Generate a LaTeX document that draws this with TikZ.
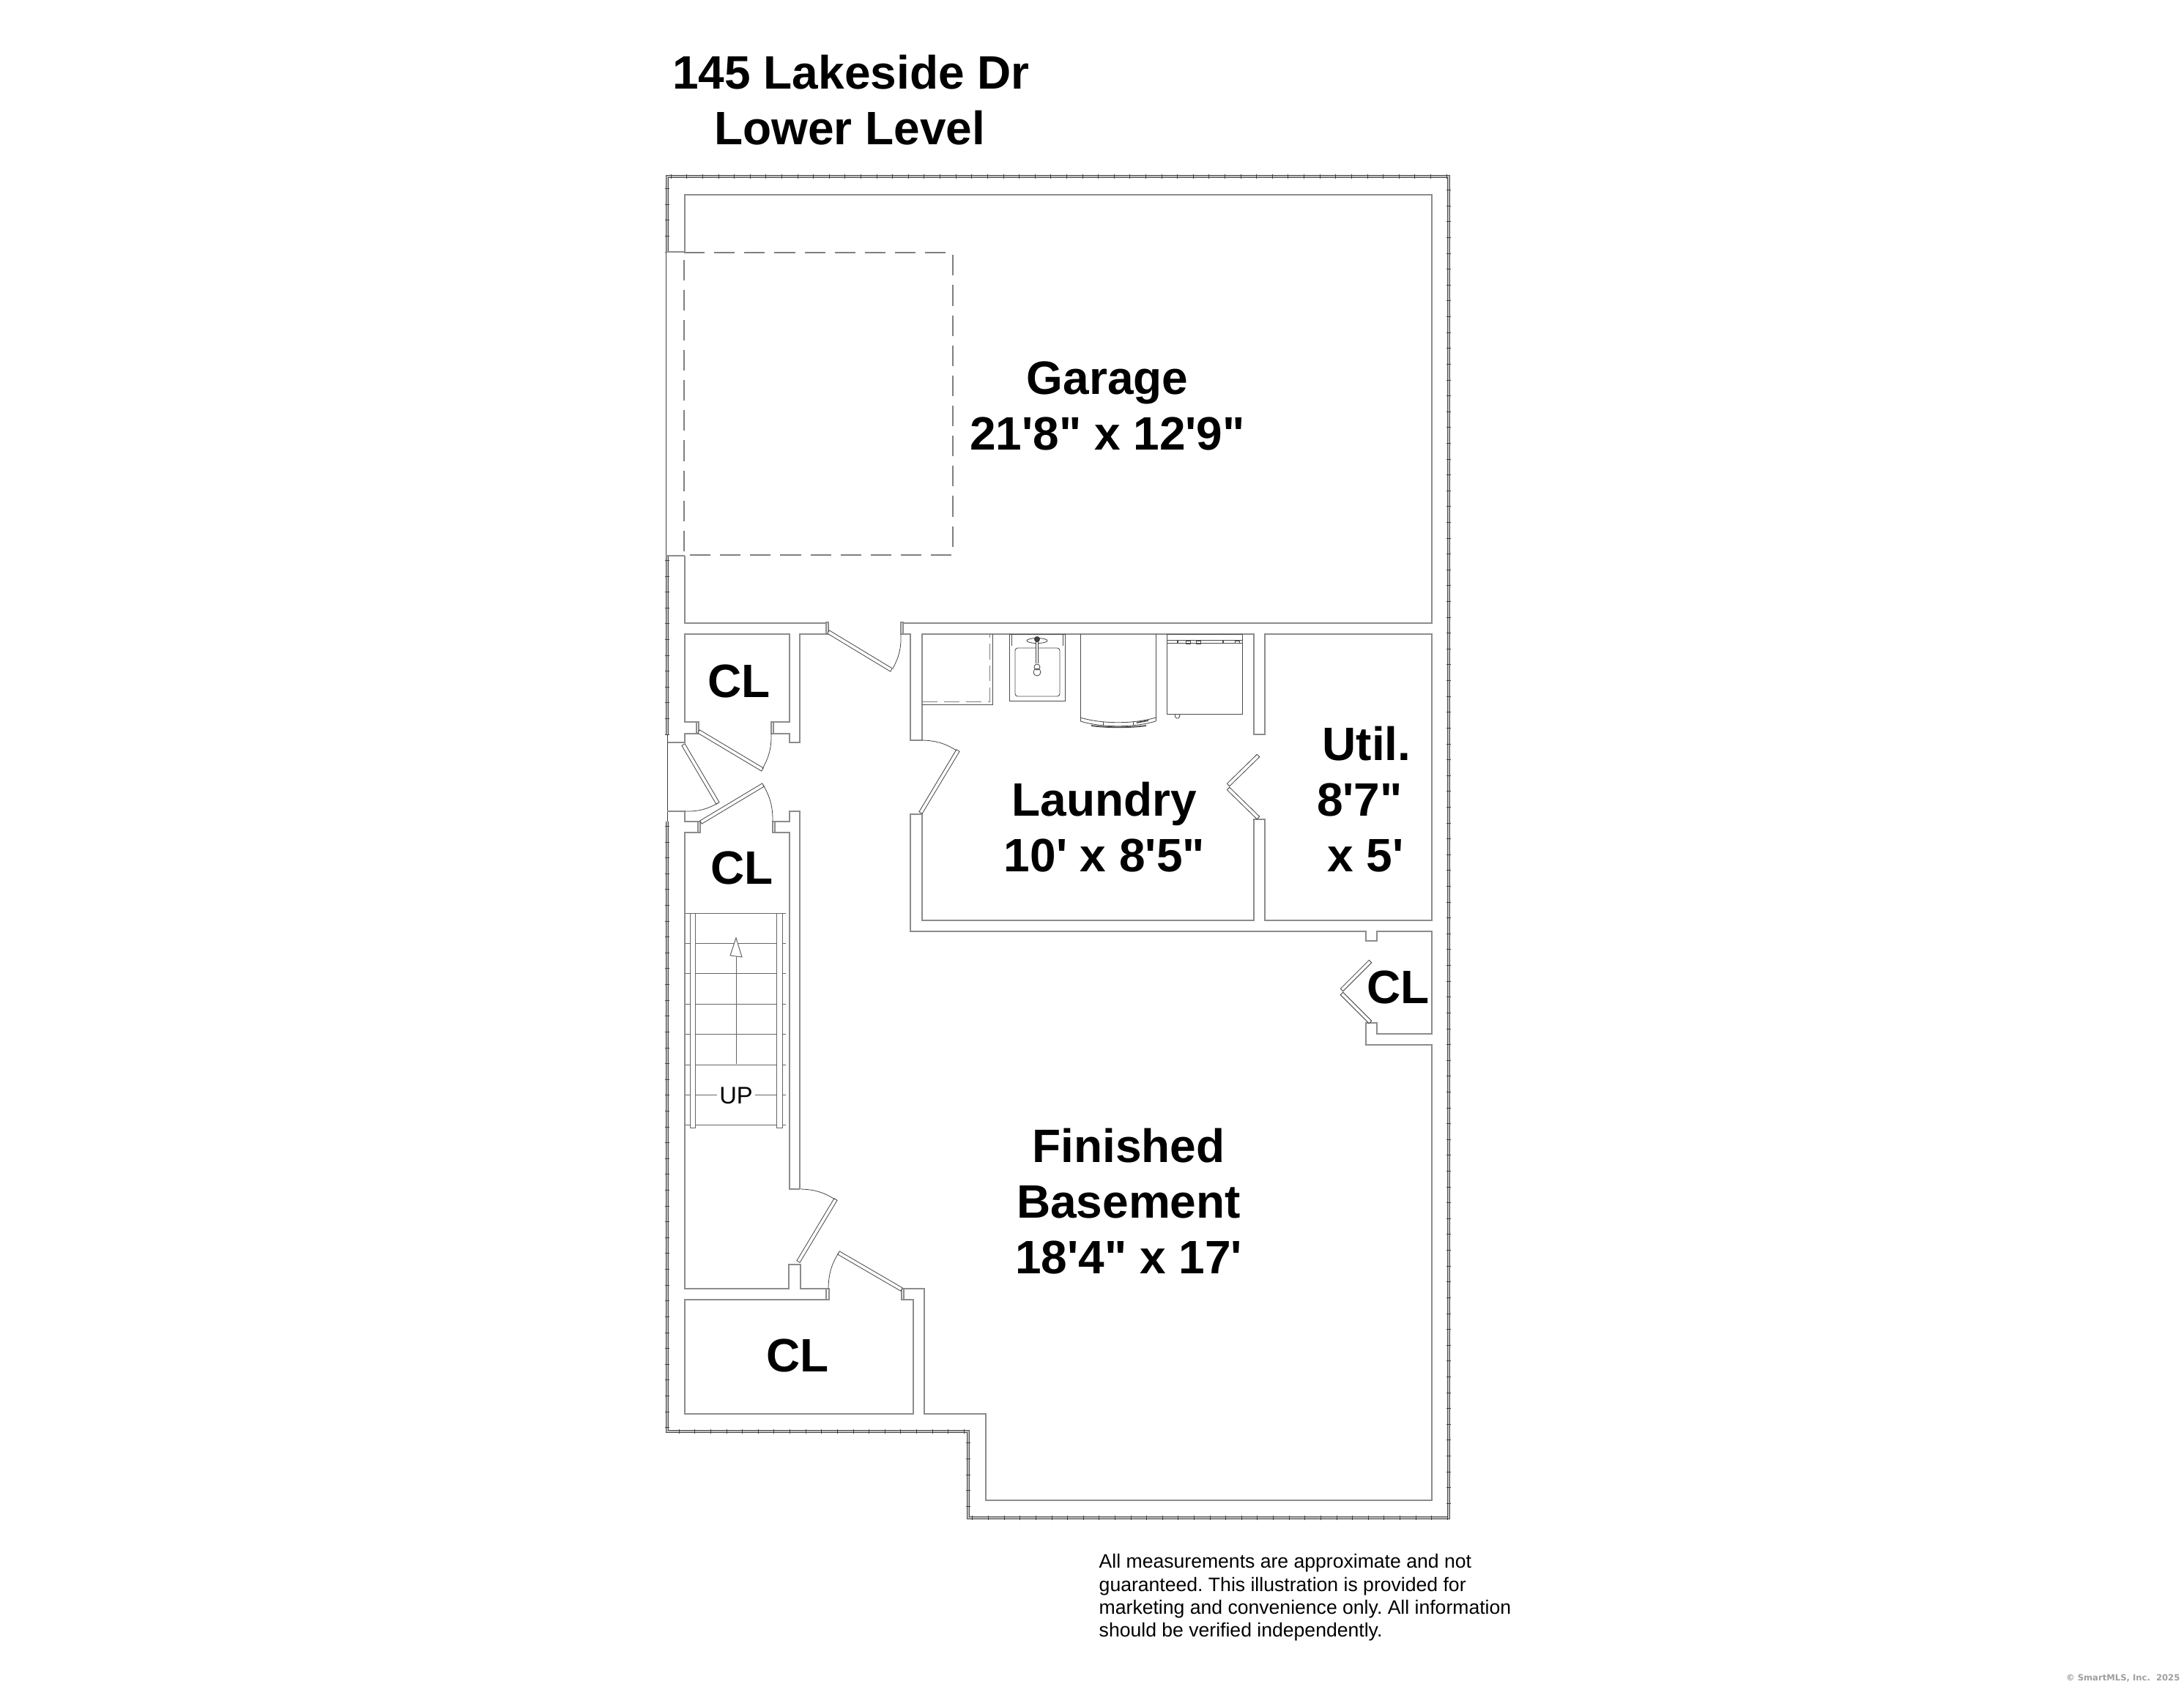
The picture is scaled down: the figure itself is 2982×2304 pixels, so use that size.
\documentclass[tikz,border=0pt]{standalone}
\usepackage{fontspec}
\newfontfamily\planfont{Liberation Sans}
\newfontfamily\markfont{DejaVu Sans}
\usepackage{tikz}
\usetikzlibrary{calc}
\usetikzlibrary{decorations.markings}

% one door leaf, drawn as a thin slab between two points
\newcommand{\doorleaf}[2]{\draw[leaf] ($#1!0.7pt!90:#2$) -- ($#1!0.7pt!-90:#2$) -- ($#2!0.7pt!90:#1$) -- ($#2!0.7pt!-90:#1$) -- cycle;}

\begin{document}
\begin{tikzpicture}[x=0.01cm,y=-0.01cm,
	wall/.style={draw=black!72,double=black!45,line width=0.22pt,double distance=0.32pt},
	outerwall/.style={draw=black!70,double=black!25,line width=0.22pt,double distance=0.6pt,postaction={decorate},
		decoration={markings,mark=between positions 0 and 1 step 21.6*0.2845pt with {\draw[black!75,line width=0.22pt] (0,-0.8pt) -- (0,0.8pt);}}},
	thin wall/.style={draw=black!75,line width=0.25pt},
	leaf/.style={draw=black!75,line width=0.22pt,fill=white},
	swing/.style={draw=black!75,line width=0.22pt},
	fixture/.style={draw=black!70,line width=0.25pt},
	tread/.style={draw=black!60,line width=0.28pt},
	roomlabel/.style={font=\fontsize{18.2}{21.6}\selectfont\planfont\bfseries,align=center,inner sep=0pt}]
		\useasboundingbox (0,0) rectangle (2982,2304);
		
		% outer walls
		\draw[outerwall] (911,344) -- (911,241) -- (1978,241) -- (1978,2073) -- (1322,2073) -- (1322,1955) -- (911,1955) -- (911,1122);
		\draw[outerwall] (911,1003) -- (911,759);
		
		% garage door opening
		\draw[thin wall] (909,344) -- (909,759);
		\draw[wall] (909,344) -- (935,344);
		\draw[wall] (909,759) -- (935,759);
		\draw[gray,line width=0.3pt,dash pattern=on 8pt off 3.7pt] (934,345) -- (1301,345) -- (1301,758) -- (934,758) -- cycle;
		
		% garage
		\draw[wall] (935,344) -- (935,266) -- (1955,266) -- (1955,851) -- (1233,851);
		\draw[wall] (935,759) -- (935,851) -- (1128,851);
		\draw[wall] (1128,850) rectangle (1131,866);
		\draw[wall] (1230,850) rectangle (1233,866);
		
		% first closet
		\draw[wall] (951,986) -- (935,986) -- (935,866) -- (1078,866) -- (1078,986) -- (1056,986);
		\draw[wall] (951,986) rectangle (954,1002);
		\draw[wall] (1053,986) rectangle (1056,1002);
		\draw[wall] (951,1002) -- (935,1002) -- (935,1014) -- (911,1014);
		\draw[wall] (1056,1002) -- (1078,1002) -- (1078,1014) -- (1092,1014) -- (1092,866) -- (1128,866);
		
		% entry between the closets
		\draw[thin wall] (911,1003) -- (911,1122);
		
		% second closet and stair wall
		\draw[wall] (911,1108) -- (935,1108) -- (935,1122) -- (953,1122);
		\draw[wall] (953,1122) rectangle (956,1137);
		\draw[wall] (1055,1122) rectangle (1058,1137);
		\draw[wall] (1058,1122) -- (1078,1122) -- (1078,1108) -- (1092,1108) -- (1092,1624);
		\draw[wall] (953,1137) -- (935,1137) -- (935,1760) -- (1077,1760) -- (1077,1727) -- (1093,1727) -- (1093,1760) -- (1128,1760);
		\draw[wall] (1058,1137) -- (1078,1137) -- (1078,1624) -- (1092,1624);
		
		% bottom closet and basement
		\draw[wall] (1128,1760) rectangle (1132,1775);
		\draw[wall] (1231,1760) rectangle (1234,1775);
		\draw[wall] (1128,1775) -- (935,1775) -- (935,1931) -- (1247,1931) -- (1247,1775) -- (1234,1775);
		\draw[wall] (1234,1760) -- (1262,1760) -- (1262,1931) -- (1346,1931) -- (1346,2049) -- (1955,2049) -- (1955,1427) -- (1865,1427) -- (1865,1397) -- (1880,1397) -- (1880,1412) -- (1955,1412) -- (1955,1272) -- (1880,1272) -- (1880,1285) -- (1865,1285) -- (1865,1272) -- (1243,1272) -- (1243,1112) -- (1259,1112) -- (1259,1257) -- (1712,1257) -- (1712,1119) -- (1727,1119) -- (1727,1257) -- (1955,1257) -- (1955,866) -- (1727,866) -- (1727,1003) -- (1712,1003) -- (1712,866) -- (1259,866) -- (1259,1011) -- (1243,1011) -- (1243,866) -- (1233,866);
		
		% doors
		\doorleaf{(1131,863)}{(1217,915)}
		\draw[swing] (1230,866) to[bend left=15] (1219,913);
		\doorleaf{(954,999)}{(1041,1051)}
		\draw[swing] (1053,1002) to[bend left=15] (1041,1050);
		\doorleaf{(933,1017)}{(980,1097)}
		\draw[swing] (935,1108) to[bend right=15] (980,1097);
		\doorleaf{(957,1123)}{(1042,1072)}
		\draw[swing] (1055,1122) to[bend right=15] (1042,1072);
		\doorleaf{(1257,1110)}{(1308,1025)}
		\draw[swing] (1259,1011) to[bend left=15] (1306,1025);
		\doorleaf{(1090,1723)}{(1141,1638)}
		\draw[swing] (1093,1624) to[bend left=15] (1140,1638);
		\doorleaf{(1231,1761)}{(1145,1711)}
		\draw[swing] (1131,1760) to[bend left=15] (1145,1711);
		
		% bifold doors
		\doorleaf{(1718,1032)}{(1677,1072)}
		\doorleaf{(1677,1077)}{(1718,1117)}
		\doorleaf{(1871,1313)}{(1832,1352)}
		\doorleaf{(1832,1357)}{(1871,1396)}
		
		% stairs
		\foreach \y in {1247,1288,1329,1371,1412,1454,1495,1536}
			\draw[tread] (936,\y) -- (1073,\y);
		\draw[tread,fill=white] (942,1247) rectangle (949,1540);
		\draw[tread,fill=white] (1060,1247) rectangle (1068,1540);
		\draw[tread] (1005,1453) -- (1005,1306);
		\draw[tread,fill=white] (1005,1281) -- (997,1305) -- (1013,1307) -- cycle;
		\node[fill=white,inner sep=0.8pt,font=\fontsize{9.3}{10}\selectfont\planfont] (up) at (1005,1496) {UP};
		
		% laundry counter
		\draw[fixture] (1259,962) -- (1355,962) -- (1355,866);
		\draw[gray,line width=0.25pt,dash pattern=on 6pt off 2.5pt] (1259,958) -- (1351,958) -- (1351,866);
		
		% sink
		\draw[fixture] (1378,866) rectangle (1454,957);
		\draw[fixture,rounded corners=1pt] (1386,885) rectangle (1447,951);
		\draw[fixture] (1381,866) -- (1381,882);
		\draw[fixture] (1451,866) -- (1451,882);
		\draw[fixture] (1416,875) ellipse (14 and 3.5);
		\draw[draw=black!75,double=white,line width=0.3pt,double distance=0.5pt] (1416,875) -- (1416,906);
		\fill[black!75] (1416,873) circle (4);
		\draw[fixture] (1416,911) circle (4);
		\draw[fixture] (1416,918) circle (5);
		
		% washer
		\draw[fixture] (1475,866) -- (1475,985);
		\draw[fixture] (1578,866) -- (1578,985);
		\draw[fixture] (1475,980) .. controls (1505,989) and (1548,989) .. (1578,980);
		\draw[fixture] (1475,985) .. controls (1505,994) and (1548,994) .. (1578,985);
		\draw[fixture] (1506,986) -- (1506,991);
		\draw[fixture] (1547,986) -- (1547,991);
		\draw[black!70,line width=0.5pt] (1490,991) .. controls (1510,994) and (1545,994) .. (1565,991);
		\draw[black!70,line width=0.5pt] (1552,987) -- (1568,984);
		
		% dryer
		\draw[fixture] (1593,866) rectangle (1696,975);
		\draw[fixture] (1593,874) -- (1696,874);
		\draw[fixture] (1593,878) -- (1696,878);
		\foreach \x in {1622,1636}
			\draw[fixture] (\x-3,875) rectangle (\x+3,879);
		\foreach \x in {1608,1670}
			\draw[black!70,line width=0.6pt] (\x,875) -- (\x,879);
		\draw[fixture] (1686,875) rectangle (1692,878);
		\draw[fixture,rounded corners=0.5pt] (1604,975) -- (1605,981) -- (1610,981) -- (1611,975);
		
		% room labels
		\node[roomlabel] (title) at (1162,137) {145 Lakeside Dr\\Lower Level\hspace*{1pt}};
		\node[roomlabel] (garage) at (1512,554) {Garage\\21'8" x 12'9"};
		\node[roomlabel] (laundry) at (1508,1130) {Laundry\\10' x 8'5"};
		\node[roomlabel] (util) at (1866,1092) {Util.\\\mbox{8'7"\kern 5.4pt}\\x 5'\hspace*{1pt}};
		\node[roomlabel] (basement) at (1541,1641) {Finished\\Basement\\18'4" x 17'};
		\node[roomlabel] (closeta) at (1009,930) {CL};
		\node[roomlabel] (closetb) at (1013,1185) {CL};
		\node[roomlabel] (closetc) at (1089,1851) {CL};
		\node[roomlabel] (closetd) at (1909,1348) {CL};
		
		% notes
		\node[anchor=north west,inner sep=0pt,align=left,font=\fontsize{7.56}{8.85}\selectfont\planfont\frenchspacing] (note) at (1500,2122) {All measurements are approximate and not\\guaranteed. This illustration is provided for\\marketing and convenience only. All information\\should be verified independently.};
		\node[anchor=east,inner sep=0pt,text=black!38,font=\fontsize{3.3}{4}\selectfont\markfont\bfseries] (mark) at (2977,2292) {\char"00A9\ SmartMLS, Inc.\ \ 2025};
	\end{tikzpicture}
\end{document}
